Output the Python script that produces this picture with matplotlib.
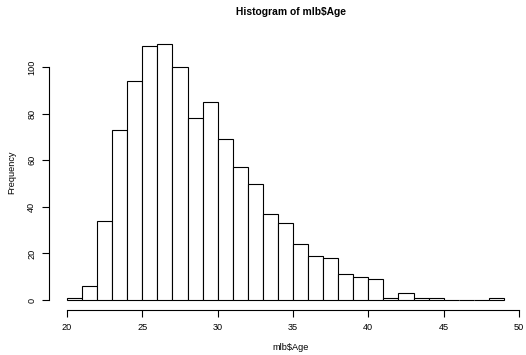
import matplotlib
matplotlib.use("Agg")
import matplotlib.pyplot as plt
import numpy as np

plt.rcParams['font.family'] = ['Liberation Sans', 'DejaVu Sans']

bin_edges = list(range(20, 50))
counts = [1, 6, 34, 73, 94, 109, 110, 100, 78, 85, 69, 57, 50, 37, 33, 24,
          19, 18, 11, 10, 9, 1, 3, 1, 1, 0, 0, 0, 1]
x_ticks = [20, 25, 30, 35, 40, 45, 50]
y_ticks = [0, 20, 40, 60, 80, 100]
title = "Histogram of mlb\\$Age"
xlabel = "mlb\\$Age"
ylabel = "Frequency"

fig = plt.figure(figsize=(5.26, 3.55), dpi=100)
ax = fig.add_axes([0.0941, 0.1259, 0.8972, 0.78])

lefts = np.array(bin_edges[:-1])
widths = np.diff(bin_edges)
ax.bar(lefts, counts, width=widths, align='edge', color='white',
       edgecolor='black', linewidth=0.8)

xr = bin_edges[-1] - bin_edges[0]
ax.set_xlim(bin_edges[0] - 0.04 * xr, bin_edges[-1] + 0.04 * xr)
ymax = max(counts)
ax.set_ylim(-0.04 * ymax, ymax * 1.04)

for s in ['top', 'right']:
    ax.spines[s].set_visible(False)
ax.spines['left'].set_bounds(0, 100)
ax.spines['bottom'].set_bounds(20, 50)
ax.spines['left'].set_linewidth(0.8)
ax.spines['bottom'].set_linewidth(0.8)

ax.set_xticks(x_ticks)
ax.set_yticks(y_ticks)
ax.set_yticklabels([str(v) for v in y_ticks], rotation=90, va='center')
ax.tick_params(axis='both', length=5, width=0.8, labelsize=6.6, pad=4.5)

fig.text(0.5525, 0.966, title, ha='center', va='center', fontsize=7.4, fontweight='bold')
fig.text(0.5525, 0.022, xlabel, ha='center', va='center', fontsize=6.6)
fig.text(0.023, 0.515, ylabel, ha='center', va='center', fontsize=6.6, rotation=90)

fig.savefig("out.png", dpi=100)
